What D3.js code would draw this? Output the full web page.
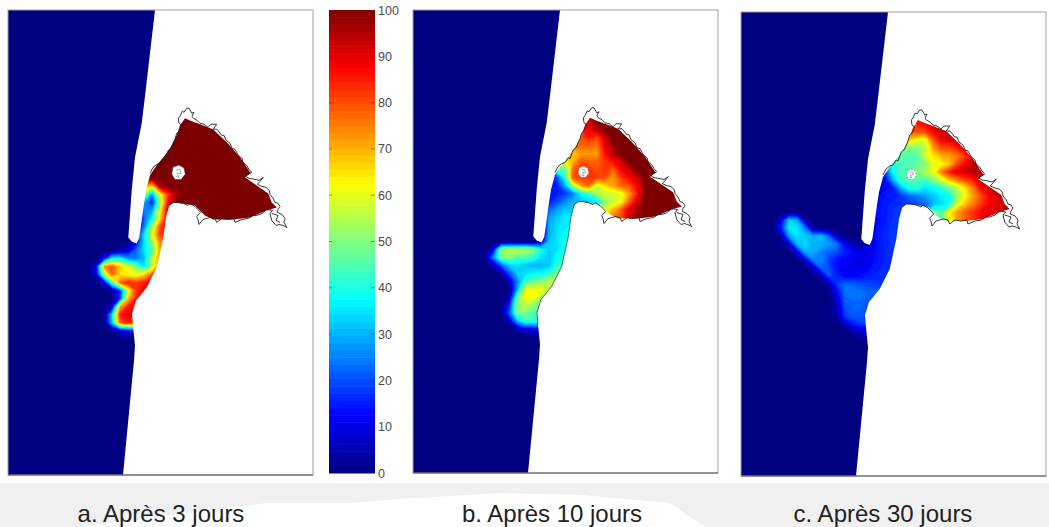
<!DOCTYPE html>
<html>
<head>
<meta charset="utf-8">
<script src="https://cdn.jsdelivr.net/npm/d3@7"></script>
<style>
  html, body { margin: 0; padding: 0; background: #fff; }
  svg { display: block; }
  text { font-family: "Liberation Sans", Arial, sans-serif; }
</style>
</head>
<body>
<div class="chart"></div>
<script>
// D3 script
const WIDTH = 1049, HEIGHT = 527;

const captions = ["a. Après 3 jours", "b. Après 10 jours", "c. Après 30 jours"];
const captionX = [161, 552, 883];
const barTicks = [0, 10, 20, 30, 40, 50, 60, 70, 80, 90, 100];

// map units: px from the frame corner of a panel
const MAP_W = 305, MAP_H = 464;
const COLS = 34, ROWS = 30, CELL = 8, U0 = 24, V0 = 96;

// values in %, one row per line: first number = starting column, before it 0, after it last value repeats
const field3 = [
  [19, 100], [19, 100], [18, 100], [18, 100], [17, 100], [17, 100], [16, 100], [15, 100], [14, 100], [14, 100],
  [14, 75, 62, 95, 100],
  [14, 55, 28, 60, 82, 96, 100],
  [14, 30, 15, 52, 88, 100],
  [14, 25, 28, 62, 92, 100],
  [14, 22, 38, 66, 92, 100],
  [14, 25, 52, 80, 92],
  [13, 10, 35, 60, 82, 85],
  [13, 12, 35, 50, 75],
  [11, 5, 10, 22, 35, 45, 72],
  [9, 14, 38, 38, 28, 25, 30, 55, 75],
  [8, 10, 72, 80, 68, 60, 50, 36, 55, 78],
  [8, 8, 52, 78, 66, 62, 60, 66, 80, 85],
  [9, 8, 45, 78, 85, 82, 85, 90],
  [10, 3, 18, 58, 82, 90],
  [11, 18, 68, 85, 88],
  [10, 8, 70, 85, 88],
  [10, 35, 85, 90, 90],
  [10, 32, 78, 85, 85],
  [11, 8, 12, 12],
  [0, 0]
];

const field10 = [
  [19, 95],
  [19, 95, 100],
  [18, 88, 92, 100],
  [18, 85, 88, 95, 100],
  [18, 80, 85, 80, 92, 100],
  [17, 75, 78, 78, 76, 90, 98, 100],
  [16, 70, 68, 72, 72, 72, 87, 94, 100],
  [15, 60, 62, 70, 80, 78, 78, 82, 87, 92, 100],
  [15, 45, 45, 78, 82, 82, 80, 83, 78, 88, 92, 100],
  [14, 15, 20, 40, 80, 82, 82, 82, 80, 72, 82, 88, 92, 100],
  [14, 15, 15, 30, 55, 72, 78, 58, 66, 72, 78, 80, 88, 100],
  [14, 15, 15, 18, 25, 38, 44, 54, 58, 58, 60, 72, 85, 100],
  [14, 15, 20, 26, 30, 32, 32, 38, 52, 56, 62, 78, 90, 100],
  [14, 22, 28, 32, 32, 32, 32, 34, 60, 70, 78, 90, 97, 100],
  [14, 28, 32, 36, 36, 36, 36, 36, 65, 75, 80, 92, 98, 100],
  [14, 30, 34, 36],
  [14, 30, 35, 38],
  [13, 8, 32, 35, 40],
  [7, 10, 52, 56, 56, 56, 52, 40, 33, 35, 40],
  [6, 3, 25, 48, 52, 45, 45, 42, 35, 32, 38, 45],
  [7, 5, 20, 32, 35, 32, 30, 30, 32, 42],
  [8, 3, 20, 32, 35, 38, 38, 42, 50],
  [9, 5, 25, 42, 48, 50, 55],
  [10, 28, 60, 62, 62, 56],
  [9, 3, 46, 62, 62, 55],
  [9, 15, 52, 56, 52, 48],
  [9, 20, 48, 50, 45, 42],
  [9, 5, 30, 42, 42, 40],
  [10, 3, 8, 10, 10],
  [0, 0]
];

const field30 = [
  [19, 90],
  [19, 88, 92, 95],
  [19, 85, 88, 92, 97],
  [18, 80, 80, 80, 88, 92, 97, 100],
  [18, 68, 62, 60, 78, 88, 90, 92, 97],
  [17, 50, 50, 50, 55, 72, 80, 80, 85, 90, 97],
  [16, 45, 46, 45, 45, 58, 65, 70, 72, 75, 82, 90, 97],
  [15, 30, 40, 45, 45, 48, 50, 60, 62, 68, 80, 88, 94, 95, 96],
  [14, 10, 18, 38, 45, 45, 50, 55, 60, 75, 85, 90, 92, 94, 95, 96],
  [14, 10, 12, 30, 44, 44, 45, 44, 50, 58, 68, 75, 80, 85, 92, 93, 94],
  [14, 10, 12, 15, 30, 40, 42, 35, 38, 42, 48, 55, 65, 75, 88, 92, 94, 94],
  [14, 12, 14, 14, 18, 22, 25, 28, 32, 36, 38, 52, 62, 72, 80, 88, 92, 94, 95],
  [14, 12, 15, 16, 17, 18, 20, 22, 30, 34, 38, 58, 68, 75, 82, 88, 90, 94, 95],
  [14, 13, 15, 17, 18, 18, 20, 25, 50, 45, 62, 72, 78, 83, 88, 90, 92, 95],
  [2, 10, 33, 30, 5, 0, 0, 0, 0, 0, 0, 0, 0, 13, 15, 17, 18, 18, 20, 25, 50, 45, 62, 72, 78, 83, 88, 90, 92, 95],
  [2, 15, 36, 36, 25, 3, 0, 0, 0, 0, 0, 0, 0, 14, 16, 18],
  [2, 3, 28, 35, 32, 30, 32, 22, 5, 0, 0, 0, 10, 14, 16, 18],
  [3, 8, 30, 34, 30, 30, 28, 24, 12, 4, 3, 8, 13, 16, 18],
  [4, 10, 30, 30, 25, 22, 20, 15, 12, 10, 10, 13, 16, 18],
  [5, 8, 25, 26, 18, 13, 12, 11, 10, 11, 14, 16],
  [6, 6, 22, 20, 13, 11, 10, 11, 12, 15, 16],
  [7, 6, 20, 16, 12, 12, 13, 15, 16],
  [8, 5, 18, 23, 22, 20, 19, 18],
  [9, 12, 24, 24, 24, 22],
  [9, 8, 22, 23, 23, 20],
  [9, 6, 20, 22, 22, 20],
  [9, 5, 18, 21, 21, 20],
  [10, 6, 15, 18, 18],
  [11, 3, 6, 6],
  [0, 0]
];

// sea + channel + bay
const waterEdge = [
  [0, 0], [147, 0], [137.7, 80], [133.7, 113], [127, 147], [123.7, 180], [121.3, 213], [120.3, 227],
  [123.7, 231], [128.7, 233], [131.3, 227], [133.7, 210], [136, 193], [138, 180], [142, 165], [148.7, 155],
  [157, 145], [162, 138], [168.7, 125], [172, 115], [177, 108], [183.7, 111], [192, 114], [205, 119],
  [218.7, 132], [232, 147], [242.7, 163], [237, 167], [248.7, 175], [260.3, 183], [263.7, 192], [268.7, 197],
  [258.7, 200], [242, 207], [225.3, 209], [205.3, 209], [197, 205], [187, 195], [175, 193], [165.3, 192],
  [161.3, 195], [158, 207], [155.3, 227], [148.7, 257], [138.7, 277], [128, 290], [124, 303], [125, 315],
  [127, 335], [126, 350], [115, 464], [0, 464]
];

const marshLine = [
  [142, 163], [145, 157], [148.7, 154], [152, 153], [155.3, 148], [157, 149], [160.3, 140], [163, 138],
  [165.3, 133], [167, 129], [168.7, 123], [171, 121], [173.7, 115], [171, 113], [170.3, 108], [172, 106],
  [174.3, 101], [176, 102], [178.7, 98], [181, 98], [183.7, 103], [186, 102], [184, 106], [185.3, 108],
  [189, 110], [192, 113], [196, 114], [200, 117], [203, 114], [208.7, 114], [205.3, 119], [209, 119],
  [213.7, 125], [216, 125], [218, 130], [222, 133], [224, 138], [227, 139], [230.3, 145], [234, 148],
  [235, 152], [238.7, 155], [241, 159], [243.7, 162], [240, 164], [237.7, 166], [241, 168], [247, 169],
  [251, 170], [255.3, 167], [252, 171], [249.3, 174], [254, 176], [258, 177], [261.3, 180], [262, 184],
  [265.3, 188], [267, 192], [270, 193], [272, 196], [270, 199], [269.3, 202], [274, 204], [277, 208],
  [276, 212], [278.7, 217], [275, 215], [271.3, 214], [268, 215], [263.7, 210], [262, 203], [264.7, 200],
  [258.7, 199], [254, 203], [248.7, 205], [245, 205], [240.3, 208], [234, 209], [227, 212], [226, 208],
  [220, 209], [214, 208], [208.7, 212], [207, 208], [202, 207], [198.7, 208], [195, 209], [191, 214],
  [190, 209], [188.7, 206], [192.7, 202], [190, 199], [187, 196], [182, 193], [180, 195], [175.3, 193],
  [170, 192], [165.3, 192], [161.3, 195]
];
const marshInner = [[263.7, 203], [270, 205], [268, 210], [272, 212]];

const islandEdge = [[165, 157], [171, 155], [176, 158], [177, 164], [173, 169], [167, 169], [164, 164]];
const islandScribble = [[168, 160], [172, 159], [173, 163], [169, 163], [171, 167], [168, 166]];
const channelLine = [[161.3, 195], [158, 207], [155.3, 227], [148.7, 257], [138.7, 277], [128, 290], [124, 303], [125, 315]];

// smudge left under the captions
const bandWhite = [[77, 527], [267, 503], [350, 503], [400, 499], [500, 493], [583, 495], [670, 503], [705, 527]];

const panels = [
  {id: "a", left: 8, top: 10, right: 313, bottom: 475, field: field3, isle: 1},
  {id: "b", left: 413, top: 10, right: 718, bottom: 473, field: field10, isle: 0.8},
  {id: "c", left: 741, top: 12, right: 1046, bottom: 476, field: field30, isle: 0.75}
];

// matlab jet
function jet(v) {
  let t = v / 100;
  let c = x => Math.round(255 * Math.max(0, Math.min(1, x)));
  return d3.rgb(c(1.5 - Math.abs(4 * t - 3)), c(1.5 - Math.abs(4 * t - 2)), c(1.5 - Math.abs(4 * t - 1)));
}

const svg = d3.select(".chart")
  .append("svg")
  .attr("width", WIDTH)
  .attr("height", HEIGHT);

svg.append("rect")
  .attr("x", 0).attr("y", 483)
  .attr("width", WIDTH).attr("height", HEIGHT - 483)
  .attr("fill", "#f0f0f0");
svg.append("path")
  .attr("d", d3.line()(bandWhite) + "Z")
  .attr("fill", "#fff");

const defs = svg.append("defs");
defs.append("filter").attr("id", "soft")
  .append("feGaussianBlur").attr("stdDeviation", 0.6);

function expand(rows) {
  let out = [];
  rows.forEach(r => {
    let start = r[0], vals = r.slice(1);
    for (let i = 0; i < COLS; i++) {
      if (i < start) out.push(0);
      else out.push(vals[Math.min(i - start, vals.length - 1)]);
    }
  });
  return out;
}

const levels = d3.range(0.5, 100, 1.5);
const contours = d3.contours().size([COLS, ROWS]).thresholds(levels).smooth(true);

panels.forEach(p => {
  const x = d3.scaleLinear().domain([0, MAP_W]).range([p.left, p.right]);
  const y = d3.scaleLinear().domain([0, MAP_H]).range([p.top, p.bottom]);
  const line = d3.line().x(d => x(d[0])).y(d => y(d[1]));

  const g = svg.append("g").attr("class", "panel-" + p.id);

  defs.append("clipPath").attr("id", "water-" + p.id)
    .append("path")
    .attr("d", line(waterEdge) + "Z");

  const water = g.append("g").attr("clip-path", "url(#water-" + p.id + ")");
  const inner = water.append("g").attr("filter", "url(#soft)");

  inner.append("rect")
    .attr("x", p.left - 4).attr("y", p.top - 4)
    .attr("width", p.right - p.left + 8).attr("height", p.bottom - p.top + 8)
    .attr("fill", jet(0));

  // grid col/row -> map units -> px
  const project = d3.geoTransform({
    point: function(cx, cy) {
      this.stream.point(x(U0 + (cx - 0.5) * CELL), y(V0 + (cy - 0.5) * CELL));
    }
  });
  const path = d3.geoPath(project);

  inner.selectAll("path")
    .data(contours(expand(p.field)))
    .enter()
    .append("path")
    .attr("d", path)
    .attr("fill", d => jet(d.value + 0.75));

  if (p.id == "b") {
    g.append("path").attr("d", line(channelLine))
      .attr("fill", "none").attr("stroke", "#0b5a3c").attr("stroke-width", 0.8);
  }

  g.append("path").attr("d", line(marshLine))
    .attr("fill", "none").attr("stroke", "#222").attr("stroke-width", 0.9);
  g.append("path").attr("d", line(marshInner))
    .attr("fill", "none").attr("stroke", "#222").attr("stroke-width", 0.9);

  // island shrinks toward its centre from panel to panel
  const isle = d => [170.5 + (d[0] - 170.5) * p.isle, 162.5 + (d[1] - 162.5) * p.isle];
  g.append("path").attr("d", line(islandEdge.map(isle)) + "Z")
    .attr("fill", "#fff").attr("stroke", "#777").attr("stroke-width", 0.6)
    .attr("stroke-dasharray", "2,1.5");
  g.append("path").attr("d", line(islandScribble.map(isle)))
    .attr("fill", "none").attr("stroke", "#777").attr("stroke-width", 0.6);

  // frame
  g.append("rect")
    .attr("x", p.left).attr("y", p.top)
    .attr("width", p.right - p.left).attr("height", p.bottom - p.top)
    .attr("fill", "none").attr("stroke", "#a0a0a0").attr("stroke-width", 1);
  g.append("line")
    .attr("x1", p.left).attr("x2", p.right)
    .attr("y1", p.bottom).attr("y2", p.bottom)
    .attr("stroke", "#555").attr("stroke-width", 1);
});

// colour bar
const barY = d3.scaleLinear().domain([0, 100]).range([473, 10]);
const barSteps = d3.range(0, 100, 100 / 64);
svg.append("g").selectAll("rect")
  .data(barSteps)
  .enter()
  .append("rect")
  .attr("x", 329)
  .attr("width", 46)
  .attr("y", d => barY(d + 100 / 64))
  .attr("height", barY(0) - barY(100 / 64) + 0.5)
  .attr("fill", d => jet(d + 50 / 64));

const barAxis = d3.axisRight(barY).tickValues(barTicks).tickSize(0).tickPadding(3);
const barG = svg.append("g").attr("transform", "translate(375,0)").call(barAxis);
barG.select(".domain").remove();
barG.selectAll("text").attr("fill", "#4a4a4a").style("font-size", "12.5px")
  .style("font-family", "'Liberation Sans', Arial, sans-serif");

[[329, 332], [371, 375]].forEach(t => {
  svg.append("g").selectAll("line")
    .data(barTicks.slice(1, -1))
    .enter()
    .append("line")
    .attr("x1", t[0]).attr("x2", t[1])
    .attr("y1", d => barY(d)).attr("y2", d => barY(d))
    .attr("stroke", "#333").attr("stroke-opacity", 0.5);
});

svg.append("g").selectAll("text")
  .data(captions)
  .enter()
  .append("text")
  .attr("x", (d, i) => captionX[i])
  .attr("y", 522)
  .attr("text-anchor", "middle")
  .attr("fill", "#222")
  .style("font-size", "24px")
  .text(d => d);
</script>
</body>
</html>
